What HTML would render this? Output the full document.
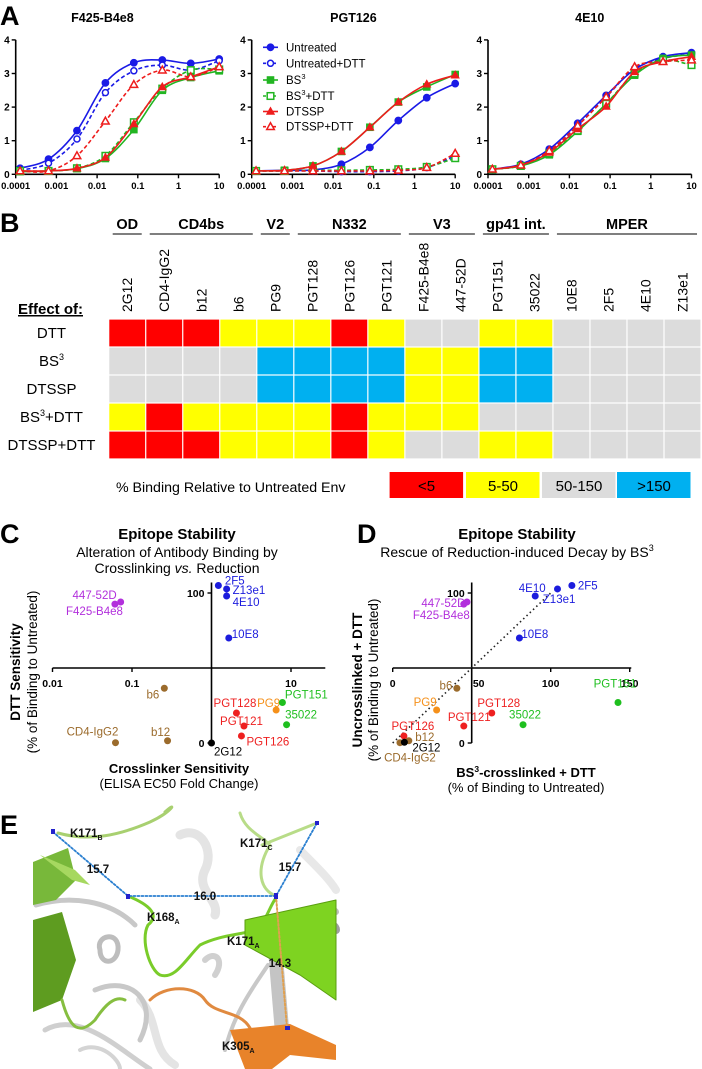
<!DOCTYPE html>
<html><head><meta charset="utf-8">
<style>
html,body{margin:0;padding:0;background:#fff;}
svg{display:block;font-family:"Liberation Sans",Arial,sans-serif;}
</style></head>
<body>
<svg id="fig" width="702" height="1069" viewBox="0 0 702 1069" xmlns="http://www.w3.org/2000/svg">
<rect x="0" y="0" width="702" height="1069" fill="#fff"/>
<g id="panelA"></g>
<g id="panelB"></g>
<g id="panelC"></g>
<g id="panelD"></g>
<g id="panelE">
  <text x="0" y="834" font-size="27" font-weight="bold">E</text>
  <g fill="none" stroke-linecap="round" stroke-linejoin="round">
    <path d="M180 835 C200 825 215 850 205 870 C195 890 220 900 215 915" stroke="#e4e4e4" stroke-width="9"/>
    <path d="M140 1000 C160 1020 150 1050 175 1065" stroke="#e4e4e4" stroke-width="8"/>
    <path d="M300 850 C320 870 330 880 336 890" stroke="#e8e8e8" stroke-width="8"/>
    <path d="M36 905 C70 895 110 900 135 925" stroke="#c8c8c8" stroke-width="5"/>
    <path d="M100 950 C95 935 120 930 118 950 C116 965 100 965 100 950" stroke="#bdbdbd" stroke-width="5"/>
    <path d="M95 990 C130 975 160 1000 140 1040" stroke="#c8c8c8" stroke-width="5"/>
    <path d="M45 1030 C80 1010 120 1050 150 1069" stroke="#cfcfcf" stroke-width="5"/>
    <path d="M80 1050 C100 1040 120 1060 120 1069" stroke="#d4d4d4" stroke-width="4"/>
    <path d="M280 945 C290 930 300 925 310 915 C325 905 336 910 336 912" stroke="#bcbcbc" stroke-width="6"/>
    <polygon points="268,950 282,945 290,1040 276,1045" fill="#c4c4c4"/>
    <path d="M225 1050 C235 1010 255 985 268 965" stroke="#c8c8c8" stroke-width="4"/>
    <path d="M300 930 C315 920 336 922 336 930" stroke="#9e9e9e" stroke-width="8"/>
    <path d="M205 960 C215 950 225 960 215 975" stroke="#d0d0d0" stroke-width="6"/>
    <polygon points="33,862 68,848 76,880 56,900 33,905" fill="#78b83a"/>
    <polygon points="40,855 75,870 90,885 72,880" fill="#a6d860"/>
    <polygon points="33,920 62,912 76,960 62,1000 33,1012" fill="#5e9c20"/>
    <path d="M62 1000 C70 1030 80 1035 95 1020 C105 1005 115 995 125 1000" stroke="#86be40" stroke-width="3"/>
    <path d="M58 833 C90 842 120 835 150 822 C172 812 178 800 165 812" stroke="#a8d070" stroke-width="3"/>
    <path d="M128 896 C150 905 160 915 148 925 C140 940 150 970 160 975 C175 980 185 960 200 945 C220 935 240 935 255 930 C265 925 270 905 276 898" stroke="#7acc2a" stroke-width="3"/>
    <polygon points="245,920 336,900 336,1000 300,975 245,945" fill="#7ed321" stroke="#5a9e10" stroke-width="1"/>
    <path d="M240 813 C245 830 260 835 270 845 C255 870 260 890 276 896" stroke="#b8dc88" stroke-width="3"/>
    <path d="M262 845 L317 823" stroke="#b8dc88" stroke-width="3"/>
    <path d="M150 1000 C165 985 195 985 205 1000 C215 1015 240 1010 250 1028" stroke="#e08a40" stroke-width="3"/>
    <polygon points="230,1030 290,1024 336,1045 336,1060 290,1055 272,1069 245,1069" fill="#e8832a"/>
    <path d="M53 832 L128 896 L276 896 L317 823" stroke="#2a7fd0" stroke-width="1.8" stroke-dasharray="2 2"/>
    <path d="M276 896 L287 1028" stroke="#e0a050" stroke-width="2" stroke-dasharray="2 2"/>
    <rect x="51" y="829" width="4" height="5" fill="#2222cc"/>
    <rect x="126" y="894" width="4" height="5" fill="#2222cc"/>
    <rect x="274" y="893" width="4" height="6" fill="#2222cc"/>
    <rect x="315" y="821" width="4" height="4" fill="#2222cc"/>
    <rect x="285" y="1026" width="5" height="4" fill="#2222cc"/>
  </g>
  <g font-size="11.5" font-weight="bold" fill="#111">
    <text x="70" y="837">K171<tspan font-size="7" dy="3">B</tspan></text>
    <text x="98" y="873" text-anchor="middle">15.7</text>
    <text x="205" y="900" text-anchor="middle">16.0</text>
    <text x="147" y="921">K168<tspan font-size="7" dy="3">A</tspan></text>
    <text x="240" y="847">K171<tspan font-size="7" dy="3">C</tspan></text>
    <text x="290" y="871" text-anchor="middle">15.7</text>
    <text x="227" y="945">K171<tspan font-size="7" dy="3">A</tspan></text>
    <text x="280" y="967" text-anchor="middle">14.3</text>
    <text x="222" y="1050">K305<tspan font-size="7" dy="3">A</tspan></text>
  </g>
</g>
</svg>
<script>
// ---------- Panel A data ----------
const doseX=[0.000128,0.00064,0.0032,0.016,0.08,0.4,2,10];
const seriesNames=['Untreated','Untreated+DTT','BS3','BS3+DTT','DTSSP','DTSSP+DTT'];
const aTitles=['F425-B4e8','PGT126','4E10'];
const aYTicks=[0,1,2,3,4];
const aXTicks=[0.0001,0.001,0.01,0.1,1,10];
const aXTickLabels=['0.0001','0.001','0.01','0.1','1','10'];
const f425Untreated=[0.18,0.45,1.3,2.72,3.32,3.4,3.3,3.43];
const f425UntreatedDTT=[0.12,0.33,1.05,2.43,3.08,3.25,3.1,3.38];
const f425BS3=[0.08,0.1,0.17,0.47,1.33,2.5,2.88,3.08];
const f425BS3DTT=[0.1,0.1,0.18,0.55,1.55,2.55,3.1,3.12];
const f425DTSSP=[0.1,0.1,0.18,0.5,1.5,2.6,2.9,3.2];
const f425DTSSPDTT=[0.1,0.1,0.55,1.58,2.67,3.1,2.9,3.2];
const pgt126Untreated=[0.1,0.12,0.13,0.3,0.8,1.6,2.28,2.7];
const pgt126UntreatedDTT=[0.1,0.1,0.1,0.08,0.08,0.1,0.2,0.55];
const pgt126BS3=[0.1,0.12,0.25,0.68,1.4,2.15,2.6,2.97];
const pgt126BS3DTT=[0.1,0.1,0.12,0.12,0.13,0.15,0.22,0.48];
const pgt126DTSSP=[0.1,0.12,0.25,0.68,1.4,2.15,2.68,2.95];
const pgt126DTSSPDTT=[0.1,0.1,0.1,0.1,0.1,0.12,0.2,0.62];
const e4e10Untreated=[0.15,0.3,0.75,1.52,2.35,3.12,3.5,3.62];
const e4e10UntreatedDTT=[0.15,0.28,0.68,1.45,2.3,3.15,3.45,3.58];
const e4e10BS3=[0.15,0.25,0.58,1.28,2.1,2.95,3.45,3.55];
const e4e10BS3DTT=[0.15,0.25,0.62,1.3,2.1,3.0,3.4,3.25];
const e4e10DTSSP=[0.15,0.27,0.65,1.35,2.02,3.05,3.35,3.5];
const e4e10DTSSPDTT=[0.15,0.27,0.7,1.45,2.3,3.2,3.35,3.4];

// ---------- Panel B data ----------
const bColumns=['2G12','CD4-IgG2','b12','b6','PG9','PGT128','PGT126','PGT121','F425-B4e8','447-52D','PGT151','35022','10E8','2F5','4E10','Z13e1'];
const bRowNames=['DTT','BS3','DTSSP','BS3+DTT','DTSSP+DTT'];
const bGroupNames=['OD','CD4bs','V2','N332','V3','gp41 int.','MPER'];
const bGroupStart=[0,1,4,5,8,10,12];
const bGroupEnd=[0,3,4,7,9,11,15];
// category codes: 0 '<5', 1 '5-50', 2 '50-150', 3 '>150'
const rowDTT=[0,0,0,1,1,1,0,1,2,2,1,1,2,2,2,2];
const rowBS3=[2,2,2,2,3,3,3,3,1,1,3,3,2,2,2,2];
const rowDTSSP=[2,2,2,2,3,3,3,3,1,1,3,3,2,2,2,2];
const rowBS3DTT=[1,0,1,1,1,1,0,1,1,1,2,2,2,2,2,2];
const rowDTSSPDTT=[0,0,0,1,1,1,0,1,2,2,1,1,2,2,2,2];
const bLegendLabels=['<5','5-50','50-150','>150'];

// ---------- Panel C / D data ----------
const ptNames=['2F5','Z13e1','4E10','10E8','447-52D','F425-B4e8','b6','PGT128','PG9','PGT151','PGT121','35022','PGT126','CD4-IgG2','b12','2G12'];
const ptGroup=['MPER','MPER','MPER','MPER','V3','V3','CD4bs','N332','V2','gp41','N332','gp41','N332','CD4bs','CD4bs','OD'];
const cFoldChange=[1.22,1.55,1.55,1.65,0.072,0.061,0.255,2.06,6.5,7.8,2.56,8.8,2.38,0.062,0.28,1.0];
const cDTTSensitivity=[105,102.7,98,70,94,92.6,36.5,20,22,27,11.3,12.2,4.7,0.2,1.5,0];
const dBS3DTT=[113.4,104.3,90.2,80.2,47,45,40.6,62.7,27.8,142.6,45,82.5,7.1,4.6,10.2,7.4];
const dUncrosslinkedDTT=[105,102.7,98,70,94,92.6,36.5,20,22,27,11.3,12.2,4.7,0.2,1.5,0.5];
const cXTicks=[0.01,0.1,10];
const cXTickLabels=['0.01','0.1','10'];
const cYTicks=[0,100];
const dXTicks=[0,50,100,150];
const dYTicks=[0,100];

// ---------- helpers ----------
const NS='http://www.w3.org/2000/svg';
function el(tag,parent){const e=document.createElementNS(NS,tag);parent.appendChild(e);return e;}
function at(e,o){for(const k in o)e.setAttribute(k,o[k]);return e;}
function txt(parent,s,o){const t=el('text',parent);at(t,o);t.textContent=s;return t;}
function catmull(pts){
  let d='M'+pts[0][0].toFixed(1)+' '+pts[0][1].toFixed(1);
  for(let i=0;i<pts.length-1;i++){
    const p0=pts[Math.max(0,i-1)],p1=pts[i],p2=pts[i+1],p3=pts[Math.min(pts.length-1,i+2)];
    const c1=[p1[0]+(p2[0]-p0[0])/6,p1[1]+(p2[1]-p0[1])/6];
    const c2=[p2[0]-(p3[0]-p1[0])/6,p2[1]-(p3[1]-p1[1])/6];
    d+=' C'+c1[0].toFixed(1)+' '+c1[1].toFixed(1)+' '+c2[0].toFixed(1)+' '+c2[1].toFixed(1)+' '+p2[0].toFixed(1)+' '+p2[1].toFixed(1);
  }
  return d;
}
const BLUE='#1a1ae6',GREEN='#22b522',RED='#ee1c1c';
const seriesColor=[BLUE,BLUE,GREEN,GREEN,RED,RED];
const seriesShape=['circle','circle','square','square','triangle','triangle'];
const seriesOpen=[false,true,false,true,false,true];
function marker(parent,shape,open,color,x,y){
  let m;
  if(shape==='circle'){m=el('circle',parent);at(m,{cx:x,cy:y,r:open?3:3.4});}
  else if(shape==='square'){m=el('rect',parent);at(m,{x:x-3.3,y:y-3.3,width:6.6,height:6.6});}
  else {m=el('polygon',parent);at(m,{points:(x)+','+(y-4)+' '+(x+3.8)+','+(y+2.8)+' '+(x-3.8)+','+(y+2.8)});}
  at(m,{fill:open?'#fff':color,stroke:color,'stroke-width':open?1.5:1});
  return m;
}

// ---------- Panel A ----------
(function(){
  const g=document.getElementById('panelA');
  const L=txt(g,'A',{x:0,y:25,'font-size':27,'font-weight':'bold'});
  
  
  const xStarts=[15.7,251.7,488];
  const W=203.5, Y0=174.3, PX=33.6;
  const allData=[[f425Untreated,f425UntreatedDTT,f425BS3,f425BS3DTT,f425DTSSP,f425DTSSPDTT],
                 [pgt126Untreated,pgt126UntreatedDTT,pgt126BS3,pgt126BS3DTT,pgt126DTSSP,pgt126DTSSPDTT],
                 [e4e10Untreated,e4e10UntreatedDTT,e4e10BS3,e4e10BS3DTT,e4e10DTSSP,e4e10DTSSPDTT]];
  aTitles.forEach((title,pi)=>{
    const x0=xStarts[pi];
    const xA=v=>x0+(Math.log10(v)+4)*W/5;
    const yA=v=>Y0-v*PX;
    const cg=el('g',g);
    
    
    const t=txt(cg,title,{x:x0+W/2+(pi===0?-15:0),y:22,'font-size':12.5,'font-weight':'bold','text-anchor':'middle'});
    
    
    const ax=el('path',cg);
    at(ax,{d:'M'+x0+' '+yA(4)+' V'+Y0+' H'+(x0+W),stroke:'#000','stroke-width':1.6,fill:'none'});
    
    
    aYTicks.forEach(v=>{
      const tk=el('line',cg);at(tk,{x1:x0-4,x2:x0,y1:yA(v),y2:yA(v),stroke:'#000','stroke-width':1.4});
      
      
      const tl=txt(cg,String(v),{x:x0-6,y:yA(v)+3.5,'font-size':10,'font-weight':'bold','text-anchor':'end'});
      
      
    });
    aXTicks.forEach((v,i)=>{
      const tk=el('line',cg);at(tk,{x1:xA(v),x2:xA(v),y1:Y0,y2:Y0+4,stroke:'#000','stroke-width':1.4});
      
      
      const tl=txt(cg,aXTickLabels[i],{x:xA(v),y:189,'font-size':9.5,'font-weight':'bold','text-anchor':'middle'});
      
      
    });
    allData[pi].forEach((vals,si)=>{
      const sg=el('g',cg);
      
      
      const pts=vals.map((v,i)=>[xA(doseX[i]),yA(v)]);
      const c=el('path',sg);
      at(c,{d:catmull(pts),fill:'none',stroke:seriesColor[si],'stroke-width':1.6});
      if(seriesOpen[si]) c.setAttribute('stroke-dasharray','4 2.5');
      
      
      pts.forEach(p=>{
        const m=marker(sg,seriesShape[si],seriesOpen[si],seriesColor[si],p[0],p[1]);
        
        
      });
    });
  });
  // legend
  const lg=el('g',g);
  
  
  const rows=[47.3,63.3,80,96,111.5,126.7];
  seriesNames.forEach((n,i)=>{
    const eg=el('g',lg);
    
    
    const ln=el('line',eg);
    at(ln,{x1:263,x2:278,y1:rows[i],y2:rows[i],stroke:seriesColor[i],'stroke-width':1.6});
    if(seriesOpen[i]) ln.setAttribute('stroke-dasharray','3 2');
    marker(eg,seriesShape[i],seriesOpen[i],seriesColor[i],270.5,rows[i]);
    const t=el('text',eg);
    at(t,{x:286,y:rows[i]+4,'font-size':11.5});
    if(n.startsWith('BS3')){
      t.appendChild(document.createTextNode('BS'));
      const s=el('tspan',t);at(s,{'font-size':7.5,dy:-5});s.textContent='3';
      const r=el('tspan',t);at(r,{dy:5});r.textContent=n.slice(3);
    } else t.textContent=n;
  });
})();

// ---------- Panel B ----------
(function(){
  const g=document.getElementById('panelB');
  const L=txt(g,'B',{x:0,y:232,'font-size':27,'font-weight':'bold'});
  
  
  const X0=108.7, CW=37.02, Y0=319, RH=28;
  const palette=['#ff0000','#ffff00','#dcdcdc','#00b0f0'];
  const colX=i=>X0+i*CW;
  const rowY=j=>Y0+j*RH;
  const matrix=[rowDTT,rowBS3,rowDTSSP,rowBS3DTT,rowDTSSPDTT];
  const ef=txt(g,'Effect of:',{x:18,y:314,'font-size':15,'font-weight':'bold','text-decoration':'underline'});
  
  
  bGroupNames.forEach((n,k)=>{
    const x1=colX(bGroupStart[k])+4, x2=colX(bGroupEnd[k]+1)-4;
    const t=txt(g,n,{x:(x1+x2)/2,y:229,'font-size':14.5,'font-weight':'bold','text-anchor':'middle'});
    
    
    const u=el('line',g);at(u,{x1:x1,x2:x2,y1:234,y2:234,stroke:'#333','stroke-width':1.2});
    
    
  });
  bColumns.forEach((n,i)=>{
    const cx=colX(i)+CW/2+5;
    const t=txt(g,n,{x:cx,y:312,'font-size':14,transform:'rotate(-90 '+cx+' 312)'});
    
    
  });
  bRowNames.forEach((n,j)=>{
    const t=el('text',g);
    at(t,{x:51.5,y:rowY(j)+RH/2+5,'font-size':15,'text-anchor':'middle'});
    if(n.startsWith('BS3')){
      t.appendChild(document.createTextNode('BS'));
      const s=el('tspan',t);at(s,{'font-size':9,dy:-6});s.textContent='3';
      const r=el('tspan',t);at(r,{dy:6});r.textContent=n.slice(3);
    } else t.textContent=n;
    
    
    matrix[j].forEach((v,i)=>{
      const r=el('rect',g);
      at(r,{x:colX(i)+0.6,y:rowY(j)+0.6,width:CW-1.2,height:RH-1.2,fill:palette[v]});
      
      
    });
  });
  const lt=txt(g,'% Binding Relative to Untreated Env',{x:116,y:492,'font-size':14.2});
  
  
  const lx=[389.6,466,542,617];
  bLegendLabels.forEach((n,i)=>{
    const r=el('rect',g);at(r,{x:lx[i],y:472,width:73.5,height:26,fill:palette[i]});
    
    
    const t=txt(g,n,{x:lx[i]+37,y:491,'font-size':15,'text-anchor':'middle'});
    
    
  });
})();

// ---------- Panels C & D ----------
const groupColor={MPER:'#1c1cdd',V3:'#b22fdc',CD4bs:'#9b6b2c',N332:'#ee2020',V2:'#f5901a',gp41:'#1fbf1f',OD:'#000'};
function scatter(gid,letter,title,sub1,sub2,xs,ys,xScale,yScale,xAxisY,yAxisX,xMin,xMax,labelPos){
  const g=document.getElementById(gid);
  const off=gid==='panelC'?0:357;
  const L=txt(g,letter,{x:off,y:543,'font-size':27,'font-weight':'bold'});
  
  
  const cx=gid==='panelC'?177:517;
  const t1=txt(g,title,{x:cx,y:539,'font-size':15,'font-weight':'bold','text-anchor':'middle'});
  
  
  const t2=el('text',g);at(t2,{x:cx,y:557,'font-size':14,'text-anchor':'middle'});
  t2.innerHTML=sub1;
  
  
  if(sub2){
    const t3=el('text',g);at(t3,{x:cx,y:573,'font-size':14,'text-anchor':'middle'});
    t3.innerHTML=sub2;
    
    
  }
  const xa=el('line',g);at(xa,{x1:xScale(xMin),x2:xScale(xMax),y1:xAxisY,y2:xAxisY,stroke:'#000','stroke-width':1.6});
  
  
  const ya=el('line',g);at(ya,{x1:yAxisX,x2:yAxisX,y1:yScale(107),y2:yScale(0),stroke:'#000','stroke-width':1.6});
  
  
  return g;
}
(function(){
  const xS=v=>211.5+Math.log10(v)*79.5;
  const yS=v=>743-v*1.5;
  const g=scatter('panelC','C','Epitope Stability','Alteration of Antibody Binding by','Crosslinking <tspan font-style="italic">vs.</tspan> Reduction',cFoldChange,cDTTSensitivity,xS,yS,yS(50),xS(1),0.01,27);
  cXTicks.forEach((v,i)=>{
    const tk=el('line',g);at(tk,{x1:xS(v),x2:xS(v),y1:yS(50),y2:yS(50)+4,stroke:'#000','stroke-width':1.4});
    
    
    const tl=txt(g,cXTickLabels[i],{x:xS(v),y:687,'font-size':10.5,'font-weight':'bold','text-anchor':'middle'});
    
    
  });
  cYTicks.forEach(v=>{
    const tk=el('line',g);at(tk,{x1:xS(1)-4,x2:xS(1),y1:yS(v),y2:yS(v),stroke:'#000','stroke-width':1.4});
    
    
    const tl=txt(g,String(v),{x:xS(1)-7,y:yS(v)+4,'font-size':10.5,'font-weight':'bold','text-anchor':'end'});
    
    
  });
  const lp={'2F5':[6.5,-5,'start'],'Z13e1':[6,1,'start'],'4E10':[6,6,'start'],'10E8':[3,-4,'start'],'447-52D':[-4,-7,'end'],'F425-B4e8':[8,7,'end'],'b6':[-5,6,'end'],'PGT128':[-1.5,-10,'middle'],'PG9':[4,-7,'end'],'PGT151':[2.5,-8,'start'],'35022':[-1.5,-10,'start'],'PGT121':[-2.5,-5,'middle'],'PGT126':[5,5.7,'start'],'CD4-IgG2':[-23,-11,'middle'],'b12':[-7,-9,'middle'],'2G12':[16.6,8.7,'middle']};
  ptNames.forEach((n,i)=>{
    const px=xS(cFoldChange[i]), py=yS(cDTTSensitivity[i]);
    const col=groupColor[ptGroup[i]];
    const d=el('circle',g);at(d,{cx:px,cy:py,r:3.5,fill:col});
    
    
    const o=lp[n];
    const t=txt(g,n,{x:px+o[0],y:py+o[1]+4,'font-size':11.5,fill:col,'text-anchor':o[2]});
    
    
  });
  const a1=txt(g,'Crosslinker Sensitivity',{x:179,y:773,'font-size':13,'font-weight':'bold','text-anchor':'middle'});
  
  
  const a2=txt(g,'(ELISA EC50 Fold Change)',{x:179,y:788,'font-size':13,'text-anchor':'middle'});
  
  
  const a3=txt(g,'DTT Sensitivity',{x:20,y:672,'font-size':13.5,'font-weight':'bold','text-anchor':'middle',transform:'rotate(-90 20 672)'});
  
  
  const a4=txt(g,'(% of Binding to Untreated)',{x:37,y:672,'font-size':13.5,'text-anchor':'middle',transform:'rotate(-90 37 672)'});
  
  
})();
(function(){
  const xS=v=>392.7+v*1.58;
  const yS=v=>743-v*1.5;
  const g=scatter('panelD','D','Epitope Stability','Rescue of Reduction-induced Decay by BS<tspan font-size="9" dy="-6">3</tspan>','',dBS3DTT,dUncrosslinkedDTT,xS,yS,yS(50),xS(50),0,151);
  const dl=el('line',g);at(dl,{x1:xS(0),y1:yS(0),x2:xS(100),y2:yS(100),stroke:'#222','stroke-width':1.6,'stroke-dasharray':'1.5 3'});
  
  
  dXTicks.forEach(v=>{
    const tk=el('line',g);at(tk,{x1:xS(v),x2:xS(v),y1:yS(50),y2:yS(50)+4,stroke:'#000','stroke-width':1.4});
    
    
    const tl=txt(g,String(v),{x:xS(v)+(v===50?7:0),y:687,'font-size':10.5,'font-weight':'bold','text-anchor':'middle'});
    
    
  });
  dYTicks.forEach(v=>{
    const tk=el('line',g);at(tk,{x1:xS(50)-4,x2:xS(50),y1:yS(v),y2:yS(v),stroke:'#000','stroke-width':1.4});
    
    
    const tl=txt(g,String(v),{x:xS(50)-7,y:yS(v)+4,'font-size':10.5,'font-weight':'bold','text-anchor':'end'});
    
    
  });
  const lp={'2F5':[6,0,'start'],'Z13e1':[-14.7,10,'start'],'4E10':[-3,-8,'middle'],'10E8':[2,-4,'start'],'447-52D':[-1.5,1,'end'],'F425-B4e8':[6,11,'end'],'b6':[-4.5,-3,'end'],'PGT151':[-3,-19,'middle'],'PG9':[0,-8,'end'],'PGT128':[7,-10,'middle'],'PGT121':[5.5,-9,'middle'],'35022':[2,-10,'middle'],'PGT126':[9,-10,'middle'],'b12':[16,-4,'middle'],'2G12':[22,5,'middle'],'CD4-IgG2':[10,15,'middle']};
  ptNames.forEach((n,i)=>{
    const px=xS(dBS3DTT[i]), py=yS(dUncrosslinkedDTT[i]);
    const col=groupColor[ptGroup[i]];
    const d=el('circle',g);at(d,{cx:px,cy:py,r:3.5,fill:col});
    
    
    const o=lp[n];
    const t=txt(g,n,{x:px+o[0],y:py+o[1]+4,'font-size':11.5,fill:col,'text-anchor':o[2]});
    
    
  });
  const a1=el('text',g);at(a1,{x:526,y:777,'font-size':13,'font-weight':'bold','text-anchor':'middle'});
  a1.innerHTML='BS<tspan font-size="8.5" dy="-5">3</tspan><tspan dy="5">-crosslinked + DTT</tspan>';
  
  
  const a2=txt(g,'(% of Binding to Untreated)',{x:526,y:792,'font-size':13,'text-anchor':'middle'});
  
  
  const a3=txt(g,'Uncrosslinked + DTT',{x:362,y:680,'font-size':13.5,'font-weight':'bold','text-anchor':'middle',transform:'rotate(-90 362 680)'});
  
  
  const a4=txt(g,'(% of Binding to Untreated)',{x:378,y:680,'font-size':13.5,'text-anchor':'middle',transform:'rotate(-90 378 680)'});
  
  
})();
</script>
</body></html>
